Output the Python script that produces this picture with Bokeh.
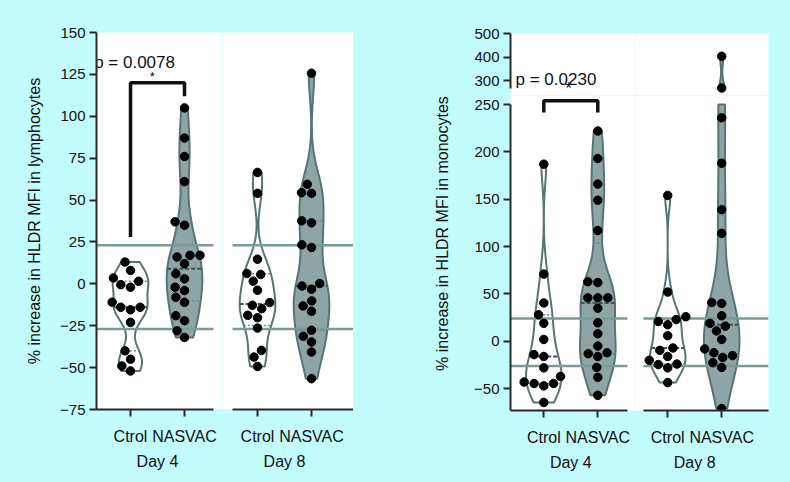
import numpy as np
from bokeh.plotting import figure
from bokeh.layouts import row, column
from bokeh.models import Range1d, FixedTicker, LinearAxis, ColumnDataSource
from bokeh.core.properties import value
from bokeh.embed import file_html
from bokeh.resources import INLINE

# ---------------- data ----------------
categories = ["Ctrol", "NASVAC"]
days = ["Day 4", "Day 8"]

# % increase in HLDR MFI in lymphocytes
lym_ctrol_d4 = [13, 8, 3.5, 1.5, -0.5, -2, -11, -14, -14, -15.5, -23, -40, -45, -49, -52]
lym_nasvac_d4 = [105, 87, 76, 61, 37, 35, 17, 17, 16, 12, 6, 3, -2, -4, -8, -11, -19, -22, -28, -32]
lym_ctrol_d8 = [66.5, 54, 14.7, 6.2, 5.6, 1.6, -3.8, -11.2, -12.8, -14.8, -18.8, -20.2, -26.4, -39.7, -43.7, -49.3]
lym_nasvac_d8 = [125.7, 59.4, 54.4, 54, 37.6, 36.4, 23.3, 21.7, 0.2, -1.3, -3.2, -10.2, -13.2, -16.4,
                 -27.7, -31.3, -34.7, -40.7, -56.6]

# % increase in HLDR MFI in monocytes
mono_ctrol_d4 = [187, 71, 40.5, 28, 19, 2, -14, -16, -28, -37, -43, -44.5, -44.5, -47, -64.5]
mono_nasvac_d4 = [222, 193, 166, 149, 117, 63, 62, 46, 46, 46, 35, 19.5, 8, -5, -12, -13, -16, -27.5, -38, -57]
mono_ctrol_d8 = [154, 52, 26, 23, 21, 17.5, 6, -7, -9.5, -16, -20, -24, -24.5, -28, -43.5]
mono_nasvac_d8 = [403, 268, 236, 188, 139, 114, 41, 40, 27, 19, 16, 11, 2, -8, -12, -15, -17, -22.5, -27.5, -71]

lym_ref_lines = [23, -27]
mono_ref_lines = [24, -26]

lym_ticks = [-75, -50, -25, 0, 25, 50, 75, 100, 125, 150]
mono_ticks_low = [-50, 0, 50, 100, 150, 200, 250]
mono_ticks_high = [300, 400, 500]

lym_range = (-75, 150)
mono_low_range = (-73, 250)
mono_high_range = (265, 500)

p_lym = "0.0078"
p_mono = "0.0230"
lym_bracket = (28, 120, 112)      # left foot, top, right foot
mono_bracket = (241.5, 254, 241.5)

lym_title = "% increase in HLDR MFI in lymphocytes"
mono_title = "% increase in HLDR MFI in monocytes"

lym = {("Day 4", "Ctrol"): lym_ctrol_d4, ("Day 4", "NASVAC"): lym_nasvac_d4,
       ("Day 8", "Ctrol"): lym_ctrol_d8, ("Day 8", "NASVAC"): lym_nasvac_d8}
mono = {("Day 4", "Ctrol"): mono_ctrol_d4, ("Day 4", "NASVAC"): mono_nasvac_d4,
        ("Day 8", "Ctrol"): mono_ctrol_d8, ("Day 8", "NASVAC"): mono_nasvac_d8}

# ---------------- style / layout ----------------
BG = "#c3fcfc"
FONT = "Liberation Sans"
AX = "#2a2a2a"
OUTLINE = "#587474"
FILLS = {"Ctrol": "white", "NASVAC": "#8da5a4"}
REFC = "#7b9a9a"
MEDC = "#3d5454"
QC = "#6e8a8a"
TXT = "#111111"
cat_pos = {"Ctrol": -1, "NASVAC": 1}
PXU = 27.0          # pixels per x unit
HALF = 0.66         # violin half width (x units)
BW = 0.55           # KDE bandwidth factor (x Scott)
DOT = 10.0          # swarm spacing in px


def make_fig(w, h, xr, yr, left, right, top, bottom, xaxis, yaxis):
    p = figure(width=w, height=h, x_range=Range1d(*xr), y_range=Range1d(*yr),
               output_backend="svg", toolbar_location=None,
               x_axis_location="below" if xaxis else None,
               y_axis_location="left" if yaxis else None,
               min_border_left=left, min_border_right=right,
               min_border_top=top, min_border_bottom=bottom)
    p.title.visible = False
    p.background_fill_color = "white"
    p.border_fill_color = BG
    p.outline_line_color = None
    p.grid.visible = False
    return p


def style_axis(ax, size):
    ax.axis_line_color = AX
    ax.axis_line_width = 2
    ax.major_tick_line_color = AX
    ax.major_tick_line_width = 2
    ax.major_tick_out = 7
    ax.major_tick_in = 0
    ax.minor_tick_line_color = None
    ax.major_label_text_font = FONT
    ax.major_label_text_font_size = size
    ax.major_label_text_color = TXT


def fmt(t):
    return str(t).replace("-", "\u2212")


def text_axis(p, side, pos, label, standoff, orientation="horizontal"):
    ax = LinearAxis(ticker=FixedTicker(ticks=[pos]), major_label_overrides={pos: label})
    ax.axis_line_color = None
    ax.major_tick_line_color = None
    ax.minor_tick_line_color = None
    ax.major_tick_out = 0
    ax.major_tick_in = 0
    ax.major_label_standoff = standoff
    ax.major_label_orientation = orientation
    ax.major_label_text_font = FONT
    ax.major_label_text_font_size = "16px"
    ax.major_label_text_color = TXT
    p.add_layout(ax, side)


def setup_x(p, bounds, day):
    ax = p.xaxis[0]
    style_axis(ax, "16px")
    ax.bounds = bounds
    ax.ticker = FixedTicker(ticks=[cat_pos[c] for c in categories])
    ax.major_label_overrides = {cat_pos[c]: c for c in categories}
    ax.major_label_standoff = 11
    text_axis(p, "below", 0, day, 5)


def setup_y(p, ticks, bounds=None):
    ax = p.yaxis[0]
    style_axis(ax, "15px")
    ax.ticker = FixedTicker(ticks=ticks)
    ax.major_label_overrides = {t: fmt(t) for t in ticks}
    ax.major_label_standoff = 4
    if bounds is not None:
        ax.bounds = bounds


def kde(v, ys, bw):
    ys = np.atleast_1d(np.asarray(ys, float))
    return np.exp(-0.5 * ((ys[:, None] - v[None, :]) / bw) ** 2).sum(axis=1)


def swarm(vals, py):
    ys = np.asarray(vals, float) * py
    offs = np.zeros(len(ys))
    placed = []
    for i in np.argsort(ys):
        y = ys[i]
        cands = [0.0]
        for xj, yj in placed:
            dy = abs(y - yj)
            if dy < DOT:
                dx = np.sqrt(DOT * DOT - dy * dy)
                cands += [xj - dx, xj + dx]
        cands.sort(key=abs)
        for c in cands:
            if all((c - xj) ** 2 + (y - yj) ** 2 >= DOT * DOT - 1e-6 for xj, yj in placed):
                offs[i] = c
                placed.append((c, y))
                break
    return offs / PXU


def draw_panel(p, data, day, seg, py, refs, xb):
    vx, vy, vf = [], [], []
    qs = {"x0": [], "x1": [], "y": []}
    ms = {"x0": [], "x1": [], "y": []}
    px, pyv = [], []
    for c in categories:
        v = np.asarray(data[(day, c)], float)
        cx = cat_pos[c]
        vmin, vmax = v.min(), v.max()
        bw = BW * v.std(ddof=1) * len(v) ** (-0.2)
        dmax = kde(v, np.linspace(vmin, vmax, 400), bw).max()
        lo, hi = max(vmin, seg[0]), min(vmax, seg[1])
        if hi > lo:
            ys = np.linspace(lo, hi, 90)
            hw = HALF * kde(v, ys, bw) / dmax
            vx.append([round(float(t), 4) for t in np.concatenate([cx + hw, (cx - hw)[::-1]])])
            vy.append([round(float(t), 3) for t in np.concatenate([ys, ys[::-1]])])
            vf.append(FILLS[c])
            q1, med, q3 = np.percentile(v, [25, 50, 75], method="weibull")
            for q, dst in [(q1, qs), (q3, qs), (med, ms)]:
                if lo <= q <= hi:
                    w = float(HALF * kde(v, [q], bw)[0] / dmax)
                    dst["x0"].append(cx - w)
                    dst["x1"].append(cx + w)
                    dst["y"].append(float(q))
        inside = v[(v >= seg[0]) & (v <= seg[1])]
        if len(inside):
            px += [float(t) for t in cx + swarm(inside, py)]
            pyv += [float(t) for t in inside]
    if vx:
        p.patches("xs", "ys", source=ColumnDataSource(dict(xs=vx, ys=vy, fill=vf)),
                  fill_color="fill", line_color=OUTLINE, line_width=2)
    if qs["y"]:
        p.segment("x0", "y", "x1", "y", source=ColumnDataSource(qs),
                  line_color=QC, line_width=1.5, line_dash="2 2")
    if ms["y"]:
        p.segment("x0", "y", "x1", "y", source=ColumnDataSource(ms),
                  line_color=MEDC, line_width=2, line_dash="4 2")
    if refs:
        p.segment("x0", "y", "x1", "y",
                  source=ColumnDataSource(dict(x0=[xb[0]] * len(refs), x1=[xb[1]] * len(refs), y=list(refs))),
                  line_color=REFC, line_width=2.5)
    if px:
        p.scatter("x", "y", source=ColumnDataSource(dict(x=px, y=pyv)), size=8.5, color="black")


def put_text(p, x, y, s, align, size, baseline="alphabetic"):
    p.text(x=[x], y=[y], text=[s], text_align=value(align), text_baseline=value(baseline),
           text_font=value(FONT), text_font_size=value(size), text_color=value(TXT))


bx = [cat_pos["Ctrol"], cat_pos["Ctrol"], cat_pos["NASVAC"], cat_pos["NASVAC"]]

# ---------- left panel (lymphocytes) ----------
LX4 = (-61 / PXU, 65 / PXU)
LX8 = (-62 / PXU, 69 / PXU)
LXB4 = (LX4[0], 56 / PXU)
LXB8 = (-52 / PXU, LX8[1])
PY_L = 377 / (lym_range[1] - lym_range[0])

L4 = make_fig(222, 482, LX4, lym_range, 96, 0, 32, 73, True, True)
L8 = make_fig(131, 482, LX8, lym_range, 0, 0, 32, 73, True, False)
setup_x(L4, LXB4, days[0])
setup_x(L8, LXB8, days[1])
setup_y(L4, lym_ticks)
text_axis(L4, "left", 37.5, lym_title, 15, "parallel")
draw_panel(L4, lym, days[0], lym_range, PY_L, lym_ref_lines, LXB4)
draw_panel(L8, lym, days[1], lym_range, PY_L, lym_ref_lines, LXB8)

L4.line(bx, [lym_bracket[0], lym_bracket[1], lym_bracket[1], lym_bracket[2]],
        line_color=TXT, line_width=3.5)
put_text(L4, -0.85, 132, "p = " + p_lym, "center", "17px")
put_text(L4, -0.19, 124, "*", "center", "13px", "middle")

# ---------- right panel (monocytes, broken y axis) ----------
RX4 = (-60.3 / PXU, 64.7 / PXU)
RX8 = (-59.2 / PXU, 73.8 / PXU)
RXB4 = (RX4[0], 56.7 / PXU)
RXB8 = (-51.2 / PXU, RX8[1])
PY_U = 0.2351                        # px per unit in the upper segment
RU_Y = (500 - 62 / PY_U, 500)        # upper frame: 33..95 px
RL_Y = (-73, -73 + 315 / 0.9474)     # lower frame: 95..410 px
PY_R = 315 / (RL_Y[1] - RL_Y[0])

RU4 = make_fig(282, 95, RX4, RU_Y, 157, 0, 33, 0, False, True)
RU8 = make_fig(155, 95, RX8, RU_Y, 0, 22, 33, 0, False, False)
RL4 = make_fig(282, 387, RX4, RL_Y, 157, 0, 0, 72, True, True)
RL8 = make_fig(155, 387, RX8, RL_Y, 0, 22, 0, 72, True, False)
setup_y(RU4, mono_ticks_high, bounds=mono_high_range)
setup_y(RL4, mono_ticks_low, bounds=mono_low_range)
text_axis(RL4, "left", 113.8, mono_title, 20, "parallel")
setup_x(RL4, RXB4, days[0])
setup_x(RL8, RXB8, days[1])

draw_panel(RU4, mono, days[0], mono_high_range, PY_U, [], RXB4)
draw_panel(RU8, mono, days[1], mono_high_range, PY_U, [], RXB8)
draw_panel(RL4, mono, days[0], mono_low_range, PY_R, mono_ref_lines, RXB4)
draw_panel(RL8, mono, days[1], mono_low_range, PY_R, mono_ref_lines, RXB8)

RL4.line(bx, [mono_bracket[0], mono_bracket[1], mono_bracket[1], mono_bracket[2]],
         line_color=TXT, line_width=3.5)
put_text(RU4, -0.55, 303, "p = " + p_mono, "center", "17px")
put_text(RU4, -0.08, RU_Y[0] + 7 / PY_U, "*", "center", "17px")

left = row(L4, L8, width=353, height=482, sizing_mode="fixed")
rtop = row(RU4, RU8, width=437, height=95, sizing_mode="fixed")
rbot = row(RL4, RL8, width=437, height=387, sizing_mode="fixed")
right = column(rtop, rbot, width=437, height=482, sizing_mode="fixed")
layout = row(left, right, width=790, height=482, sizing_mode="fixed",
             styles={"background-color": BG})
open("out.html", "w").write(file_html(layout, INLINE))
